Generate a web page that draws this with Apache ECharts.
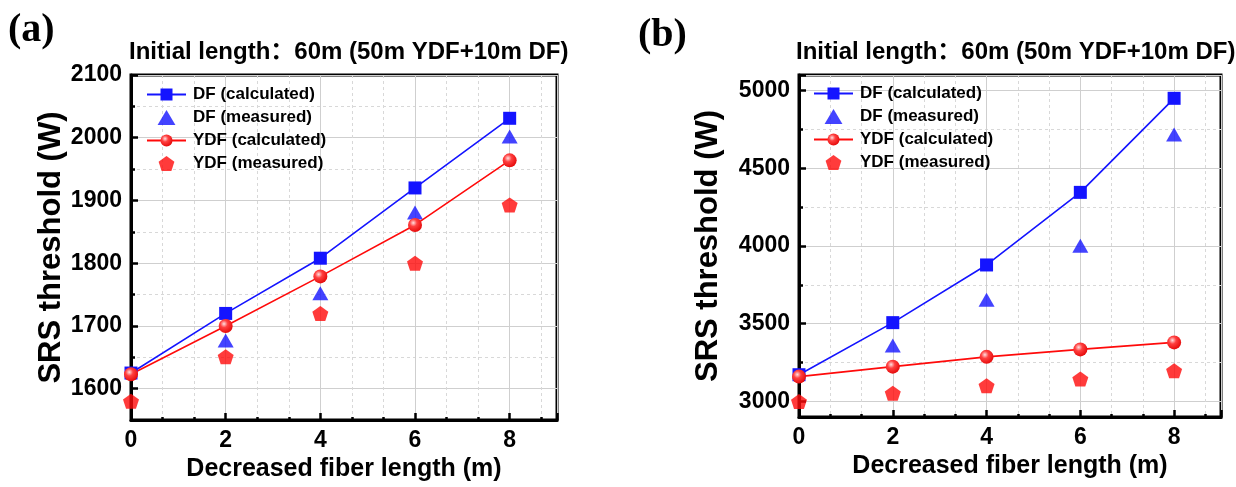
<!DOCTYPE html>
<html><head><meta charset="utf-8">
<script src="https://cdn.jsdelivr.net/npm/echarts@6/dist/echarts.min.js"></script>
<style>html,body{margin:0;padding:0;background:#fff}#c{width:1236px;height:487px}</style>
</head><body><div id="c"></div>
<script>
// ---- data ----
const xVals = [0, 2, 4, 6, 8];
const seriesNames = ['DF (calculated)', 'DF (measured)', 'YDF (calculated)', 'YDF (measured)'];
const aDfCalc = [1625, 1720, 1808, 1920, 2031];
const aDfMeas = [null, 1677, 1752, 1881, 2002];
const aYdfCalc = [1623, 1700, 1779, 1861, 1964];
const aYdfMeas = [1580, 1651, 1720, 1800, 1893];
const bDfCalc = [3172, 3507, 3878, 4345, 4950];
const bDfMeas = [null, 3360, 3655, 4002, 4717];
const bYdfCalc = [3160, 3224, 3287, 3335, 3380];
const bYdfMeas = [3000, 3052, 3101, 3145, 3198];
const panelLabels = ['(a)', '(b)'];
const panelTitle = 'Initial length\uFF1A60m (50m YDF+10m DF)';
const xName = 'Decreased fiber length (m)';
const yName = 'SRS threshold (W)';

// ---- style ----
const FONT = '"Liberation Sans", Arial, "Noto Sans CJK SC", sans-serif';
const BLUE = '#1414ff';
const RED = '#ff0a0a';
const PENT = 'path://M50,0 L97.6,34.5 L79.4,90.5 L20.6,90.5 L2.4,34.5 Z';
const TRI = 'path://M50,0 L100,84 L0,84 Z';
const sphere = {type:'radial', x:0.38, y:0.35, r:0.75, colorStops:[
  {offset:0, color:'#ffe0e0'}, {offset:0.35, color:'#ff4040'}, {offset:1, color:'#e00000'}]};

const grids = [
  {left:131, top:75, width:426, height:346},
  {left:799, top:75, width:422, height:342}
];
const yCfg = [
  {min:1550, max:2100, step:100, gap:64},
  {min:2900, max:5100, step:500, gap:75}
];

const zip = arr => xVals.map((x, i) => [x, arr[i]]).filter(d => d[1] != null);

const boldText = (size) => ({fontFamily:FONT, fontWeight:'bold', fontSize:size, color:'#000'});

const xAxes = grids.map((g, i) => ({
  gridIndex:i, type:'value', min:0, max:9, interval:2,
  axisLine:{show:true, onZero:false, lineStyle:{color:'#000', width:3}},
  axisTick:{show:true, inside:true, length:7, lineStyle:{color:'#000', width:2.5}},
  minorTick:{show:true, splitNumber:3, length:3, lineStyle:{color:'#000', width:2.5}},
  axisLabel:Object.assign(boldText(23), {margin:9, formatter: v => (v % 2 === 0 ? String(v) : '')}),
  splitLine:{show:true, lineStyle:{color:'#cfcfcf', width:1}},
  minorSplitLine:{show:true, lineStyle:{color:'#d8d8d8', width:1, type:[3,3]}},
  name:xName, nameLocation:'middle', nameGap:34, nameTextStyle:boldText(25)
}));

const yAxes = yCfg.map((c, i) => ({
  gridIndex:i, type:'value', min:c.min, max:c.max, minInterval:c.step, maxInterval:c.step, splitNumber:5,
  axisLine:{show:true, onZero:false, lineStyle:{color:'#000', width:3}},
  axisTick:{show:true, inside:true, length:7, lineStyle:{color:'#000', width:2.5}},
  minorTick:{show:true, splitNumber:2, length:4, lineStyle:{color:'#000', width:2.5}},
  axisLabel:Object.assign(boldText(23), {margin:9, formatter: v => (v % c.step === 0 ? String(v) : '')}),
  splitLine:{show:true, lineStyle:{color:'#cfcfcf', width:1}},
  minorSplitLine:{show:true, lineStyle:{color:'#d8d8d8', width:1, type:[3,3]}},
  name:yName, nameLocation:'middle', nameGap:c.gap, nameTextStyle:boldText(31)
}));

const panelData = [
  [aDfCalc, aDfMeas, aYdfCalc, aYdfMeas],
  [bDfCalc, bDfMeas, bYdfCalc, bYdfMeas]
];
const series = [];
panelData.forEach((arrs, p) => {
  series.push({name:seriesNames[0], type:'line', xAxisIndex:p, yAxisIndex:p, data:zip(arrs[0]),
    symbol:'rect', symbolSize:13, lineStyle:{color:BLUE, width:1.6}, itemStyle:{color:BLUE}});
  series.push({name:seriesNames[1], type:'scatter', xAxisIndex:p, yAxisIndex:p, data:zip(arrs[1]),
    symbol:TRI, symbolSize:[16,14], itemStyle:{color:BLUE}});
  series.push({name:seriesNames[2], type:'line', xAxisIndex:p, yAxisIndex:p, data:zip(arrs[2]),
    symbol:'circle', symbolSize:14, lineStyle:{color:RED, width:1.6}, itemStyle:{color:sphere}});
  series.push({name:seriesNames[3], type:'scatter', xAxisIndex:p, yAxisIndex:p, data:zip(arrs[3]),
    symbol:PENT, symbolSize:[16,15], itemStyle:{color:RED}});
});

const legendBase = {orient:'vertical', itemWidth:39, itemHeight:15, itemGap:6, padding:0,
  selectedMode:false, data:seriesNames, textStyle:Object.assign(boldText(17), {padding:[0,0,0,2]})};

const serif = '"Liberation Serif", "Times New Roman", serif';
const option = {
  animation:false,
  backgroundColor:'#fff',
  grid:grids.map(g => Object.assign({show:true, borderColor:'#000', borderWidth:3, backgroundColor:'transparent'}, g)),
  title:[
    {text:panelLabels[0], left:8, top:11, padding:0, textStyle:{fontFamily:serif, fontWeight:'bold', fontSize:40, color:'#000'}},
    {text:panelLabels[1], left:638, top:16, padding:0, textStyle:{fontFamily:serif, fontWeight:'bold', fontSize:40, color:'#000'}},
    {text:panelTitle, left:129, top:40, padding:0, textStyle:boldText(24)},
    {text:panelTitle, left:796, top:40, padding:0, textStyle:boldText(24)}
  ],
  legend:[
    Object.assign({left:146, top:86}, legendBase),
    Object.assign({left:813, top:85}, legendBase)
  ],
  xAxis:xAxes,
  yAxis:yAxes,
  series:series
};
const chart = echarts.init(document.getElementById('c'), null, {renderer:'canvas'});
chart.setOption(option);
</script></body></html>
